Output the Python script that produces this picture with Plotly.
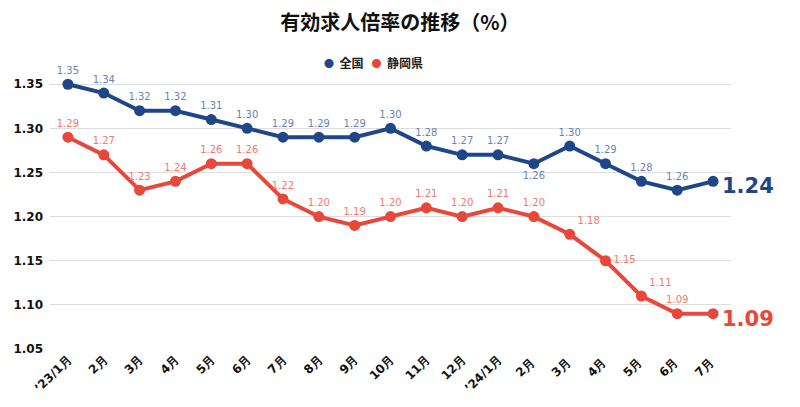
import plotly.graph_objects as go

months = ["’23/1月", "2月", "3月", "4月", "5月", "6月", "7月", "8月", "9月", "10月",
          "11月", "12月", "’24/1月", "2月 ", "3月 ", "4月 ", "5月 ", "6月 ", "7月 "]
national = [1.35, 1.34, 1.32, 1.32, 1.31, 1.30, 1.29, 1.29, 1.29, 1.30,
            1.28, 1.27, 1.27, 1.26, 1.28, 1.26, 1.24, 1.23, 1.24]
national_labels = ["1.35", "1.34", "1.32", "1.32", "1.31", "1.30", "1.29", "1.29", "1.29", "1.30",
                   "1.28", "1.27", "1.27", "1.26", "1.30", "1.29", "1.28", "1.26", ""]
shizuoka = [1.29, 1.27, 1.23, 1.24, 1.26, 1.26, 1.22, 1.20, 1.19, 1.20,
            1.21, 1.20, 1.21, 1.20, 1.18, 1.15, 1.11, 1.09, 1.09]
shizuoka_labels = ["1.29", "1.27", "1.23", "1.24", "1.26", "1.26", "1.22", "1.20", "1.19", "1.20",
                   "1.21", "1.20", "1.21", "1.20", "1.18", "1.15", "1.11", "1.09", ""]
y_ticks = [1.05, 1.10, 1.15, 1.20, 1.25, 1.30, 1.35]
series_names = ["全国", "静岡県"]

BLUE = "#1f4788"
RED = "#e8473b"
BLUE_LBL = "#6a82b8"
RED_LBL = "#f07a70"

nat_pos = ["top center"] * len(months)
nat_pos[13] = "bottom center"
shz_pos = ["top center"] * len(months)
shz_pos[14] = "top right"
shz_pos[15] = "middle right"
shz_pos[16] = "top right"

fig = go.Figure()
fig.add_trace(go.Scatter(
    x=months, y=national, mode="lines+markers+text", text=national_labels, name=series_names[0],
    textposition=nat_pos, textfont=dict(family="DejaVu Sans", size=10, color=BLUE_LBL),
    line=dict(color=BLUE, width=4), marker=dict(color=BLUE, size=11),
    showlegend=False, cliponaxis=False))
fig.add_trace(go.Scatter(
    x=months, y=shizuoka, mode="lines+markers+text", text=shizuoka_labels, name=series_names[1],
    textposition=shz_pos, textfont=dict(family="DejaVu Sans", size=10, color=RED_LBL),
    line=dict(color=RED, width=4), marker=dict(color=RED, size=11),
    showlegend=False, cliponaxis=False))

for vals, col in ((national, BLUE), (shizuoka, RED)):
    fig.add_annotation(x=months[-1], y=vals[-1], text=f"<b>{vals[-1]:.2f}</b>",
                       showarrow=False, xanchor="left", yanchor="middle", xshift=7, yshift=-5,
                       font=dict(family="DejaVu Sans", size=21, color=col))

# legend drawn as text
legend_text = (f"<span style='color:{BLUE};font-size:10px'>●</span>  <b>{series_names[0]}</b>"
               f"   <span style='color:{RED};font-size:10px'>●</span>  <b>{series_names[1]}</b>")
fig.add_annotation(xref="paper", yref="paper", x=0.475, y=1.032,
                   text=legend_text, showarrow=False, xanchor="center", yanchor="middle",
                   font=dict(family="Noto Sans CJK JP", size=12, color="#222"))

# note: page body has 8px default margin, margins compensate
fig.update_layout(
    width=800, height=407,
    margin=dict(l=42, r=77, t=63, b=66),
    paper_bgcolor="white", plot_bgcolor="white",
    showlegend=False,
    title=dict(text="<b>有効求人倍率の推移（%）</b>", x=0.49, xanchor="center",
               yref="container", y=1 - 15 / 407, yanchor="middle",
               font=dict(family="Noto Sans CJK JP", size=20, color="#111")),
    xaxis=dict(type="category", range=[-0.5, len(months) - 0.5], tickangle=-45,
               tickfont=dict(family="DejaVu Sans", size=12, color="#111", weight="bold"),
               showgrid=False, showline=False, ticks="", automargin=False),
    yaxis=dict(range=[1.05, 1.365], tickvals=y_ticks, tickformat=".2f",
               tickfont=dict(family="DejaVu Sans", size=12, color="#111", weight="bold"),
               gridcolor="#dddddd", gridwidth=1, zeroline=False, showline=False, ticks="",
               ticklabelstandoff=6, automargin=False),
)
fig.write_html("out.html")
